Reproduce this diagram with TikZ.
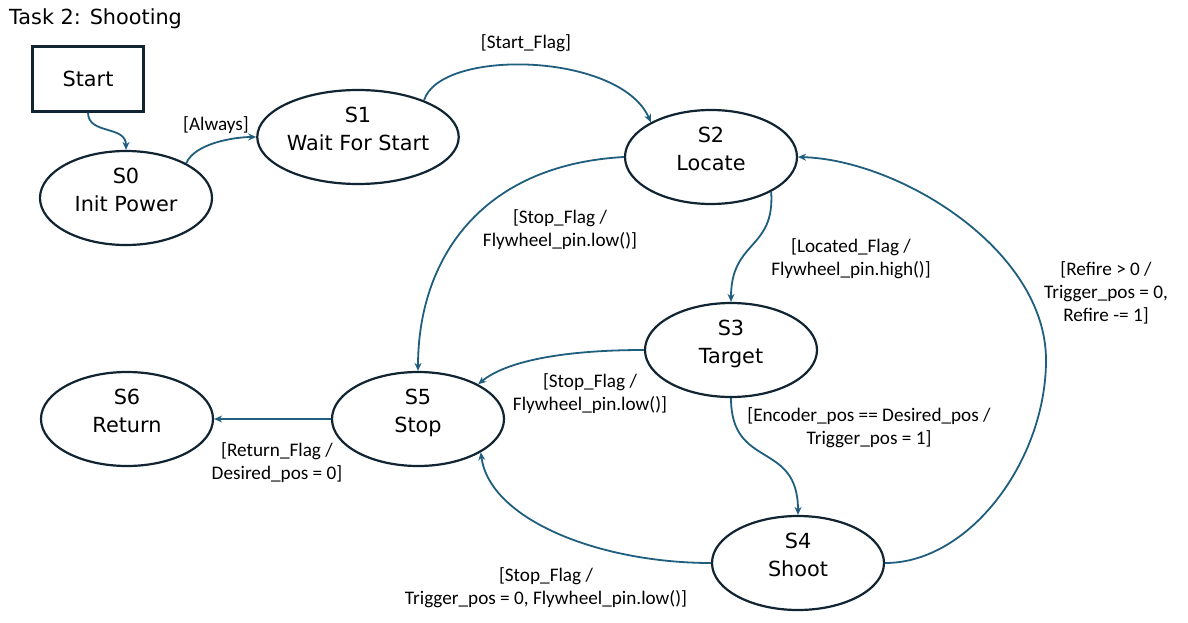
\documentclass[tikz,border=0pt]{standalone}
\usepackage{fontspec}
\newfontfamily\statefont{DejaVu Sans}
\newfontfamily\guardfont{Carlito}
\usetikzlibrary{shapes.geometric,arrows.meta}
\definecolor{edgeblue}{RGB}{31,94,126}
\definecolor{statenavy}{RGB}{16,36,50}

\begin{document}
\begin{tikzpicture}[x=1pt,y=-1pt,>={Stealth[length=8pt,width=7pt]},
	state/.style={ellipse,draw=statenavy,line width=2.2pt,minimum width=172pt,minimum height=94pt,inner sep=0pt,align=center,text height=43pt,text depth=16pt,font=\statefont\fontsize{20.8}{28}\selectfont},
	startbox/.style={rectangle,draw=statenavy,line width=2.2pt,minimum width=111pt,minimum height=65pt,inner sep=0pt,font=\statefont\fontsize{20.8}{28}\selectfont},
	trans/.style={->,draw=edgeblue,line width=1.8pt},
	guard/.style={align=center,inner sep=0pt,font=\guardfont\fontsize{19.2}{23}\selectfont}]
	\useasboundingbox (0,0) rectangle (1188,623);
	
	%title
	\node[anchor=base west,inner sep=0pt,font=\statefont\fontsize{20.8}{25}\selectfont] (title) at (9,25) {Task 2: Shooting};
	
	%states
	\node[startbox] (start) at (88,79)  {Start};
	\node[state]    (s0)    at (126,198) {S0\\Init Power};
	\node[state]    (s1)    at (358,137) {S1\\Wait For Start};
	\node[state]    (s2)    at (711,157) {S2\\Locate};
	\node[state]    (s3)    at (731,350) {S3\\Target};
	\node[state]    (s4)    at (798,563) {S4\\Shoot};
	\node[state]    (s5)    at (418,419) {S5\\Stop};
	\node[state]    (s6)    at (127,419) {S6\\Return};
	
	%transitions
	\draw[trans] (start.south) .. controls (88,135) and (126,125) .. (s0.north);
	\draw[trans] (s0.30) .. controls (195,143) and (235,137) .. (s1.west);
	\draw[trans] (s1.29) .. controls (440,48) and (620,52) .. (s2.150);
	\draw[trans] (s2.west) .. controls (480,165) and (418,260) .. (s5.north);		%stop from S2
	\draw[trans] (s2.330) .. controls (775,250) and (731,240) .. (s3.north);
	\draw[trans] (s3.west) .. controls (560,350) and (505,362) .. (s5.30);			%stop from S3
	\draw[trans] (s3.south) .. controls (731,470) and (798,440) .. (s4.north);
	\draw[trans] (s4.west) .. controls (600,563) and (490,520) .. (s5.332);			%stop from S4
	\coordinate (refire) at (1046,360);
	\draw[trans] (s4.east) .. controls (970,563) and (1046,460) .. (refire)
		.. controls (1046,250) and (900,160) .. (s2.east);							%refire loop
	\draw[trans] (s5.west) -- (s6.east);
	
	%labels
	\node[guard] (lalways)  at (216,125) {[Always]};
	\node[guard] (lstart)   at (526,43)  {[Start\_Flag]};
	\node[guard] (lstop2)   at (560,230) {[Stop\_Flag /\\Flywheel\_pin.low()]};
	\node[guard] (llocated) at (851,259) {[Located\_Flag /\\Flywheel\_pin.high()]};
	\node[guard] (lstop3)   at (590,394) {[Stop\_Flag /\\Flywheel\_pin.low()]};
	\node[guard] (lencoder) at (869,428) {[Encoder\_pos == Desired\_pos /\\Trigger\_pos = 1]};
	\node[guard] (lstop4)   at (546,588) {[Stop\_Flag /\\Trigger\_pos = 0, Flywheel\_pin.low()]};
	\node[guard] (lrefire)  at (1106,293) {[Refire > 0 /\\Trigger\_pos = 0,\\Refire -= 1]};
	\node[guard] (lreturn)  at (277,463) {[Return\_Flag /\\Desired\_pos = 0]};
\end{tikzpicture}
\end{document}
